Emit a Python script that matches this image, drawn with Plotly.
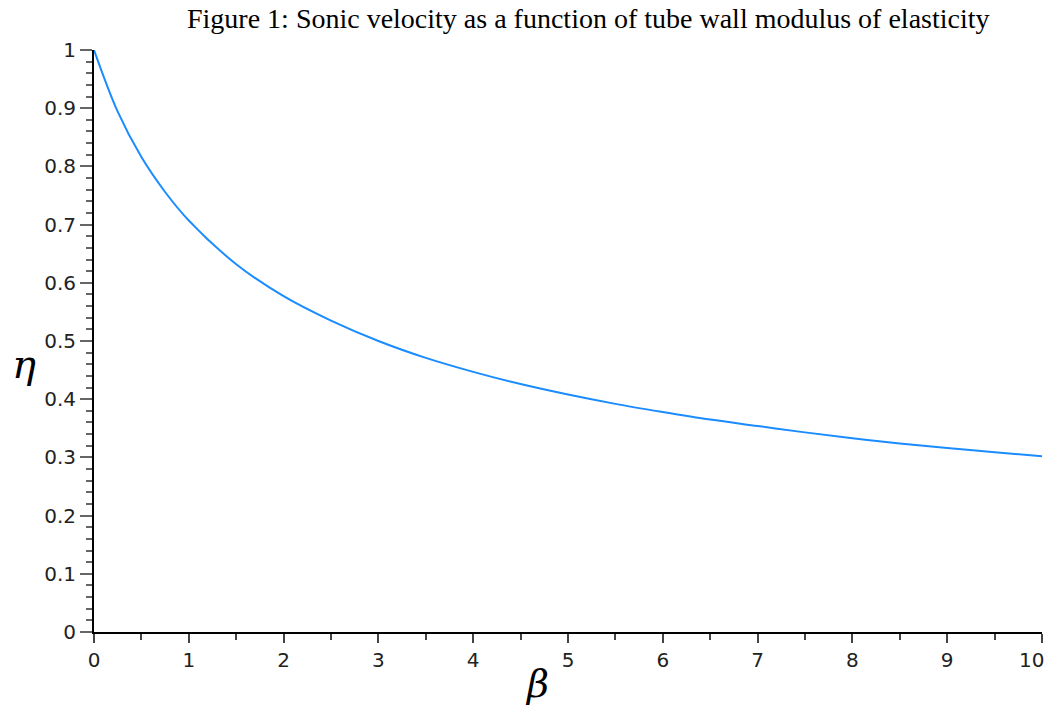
import plotly.graph_objects as go

# beta (tube wall elasticity parameter) and eta (normalised sonic velocity)
beta = [0, 0.25, 0.5, 0.75, 1, 1.5, 2, 2.5, 3, 3.5, 4, 4.5, 5, 5.5, 6, 6.5,
        7, 7.5, 8, 8.5, 9, 9.5, 10]
eta = [1.0, 0.894, 0.816, 0.756, 0.707, 0.632, 0.577, 0.535, 0.500, 0.471,
       0.447, 0.426, 0.408, 0.392, 0.378, 0.365, 0.354, 0.343, 0.333, 0.324,
       0.316, 0.309, 0.302]

x_ticks = [0, 1, 2, 3, 4, 5, 6, 7, 8, 9, 10]
x_tick_text = ["0", "1", "2", "3", "4", "5", "6", "7", "8", "9", ""]
x_last_label = "10"
y_ticks = [0, 0.1, 0.2, 0.3, 0.4, 0.5, 0.6, 0.7, 0.8, 0.9, 1]
y_tick_text = ["0", "0.1", "0.2", "0.3", "0.4", "0.5", "0.6", "0.7", "0.8", "0.9", "1"]

fig = go.Figure()
fig.add_trace(go.Scatter(
    x=beta, y=eta, mode="lines",
    line=dict(color="#1a8cff", width=2, shape="spline", smoothing=1.0),
    showlegend=False, hoverinfo="x+y",
))

tick_font = dict(family="DejaVu Sans, Arial, sans-serif", size=20, color="#222222")

fig.update_layout(
    width=1051, height=708,
    margin=dict(l=94, r=9, t=50, b=76, autoexpand=False),
    paper_bgcolor="white", plot_bgcolor="white",
    xaxis=dict(
        range=[0, 10], tickvals=x_ticks, ticktext=x_tick_text,
        showgrid=False, zeroline=False, showline=True, automargin=False,
        linecolor="black", linewidth=2,
        ticks="outside", ticklen=9, tickwidth=1.5, tickcolor="#444444",
        minor=dict(dtick=0.5, ticks="outside", ticklen=6, tickwidth=1.5, tickcolor="#444444"),
        tickfont=tick_font,
    ),
    yaxis=dict(
        range=[0, 1], tickvals=y_ticks, ticktext=y_tick_text,
        showgrid=False, zeroline=False, showline=True, automargin=False,
        ticklabeloverflow="allow",
        linecolor="black", linewidth=2,
        ticks="outside", ticklen=12, tickwidth=1.5, tickcolor="#666666",
        minor=dict(dtick=0.02, ticks="outside", ticklen=6, tickwidth=1.5, tickcolor="#666666"),
        tickfont=tick_font,
    ),
    annotations=[
        dict(text="Figure 1: Sonic velocity as a function of tube wall modulus of elasticity",
             xref="paper", yref="paper", x=0.522, y=1, yshift=32, xanchor="center",
             yanchor="middle", showarrow=False,
             font=dict(family="Liberation Serif, Times New Roman, serif", size=28, color="black")),
        # final x tick label, pulled inside the right edge
        dict(text=x_last_label, xref="x", yref="paper", x=x_ticks[-1], y=0,
             xanchor="right", yanchor="middle", xshift=4, yshift=-28, showarrow=False,
             font=tick_font),
        dict(text="<i>η</i>", xref="paper", yref="paper", x=0, xshift=-70, y=0.46,
             xanchor="center", yanchor="middle", showarrow=False,
             font=dict(family="DejaVu Serif, Liberation Serif, serif", size=40, color="black")),
        dict(text="<i>β</i>", xref="paper", yref="paper", x=0.467, y=0, yshift=-52,
             xanchor="center", yanchor="middle", showarrow=False,
             font=dict(family="DejaVu Serif, Liberation Serif, serif", size=38, color="black")),
    ],
)

fig.write_html("out.html")
